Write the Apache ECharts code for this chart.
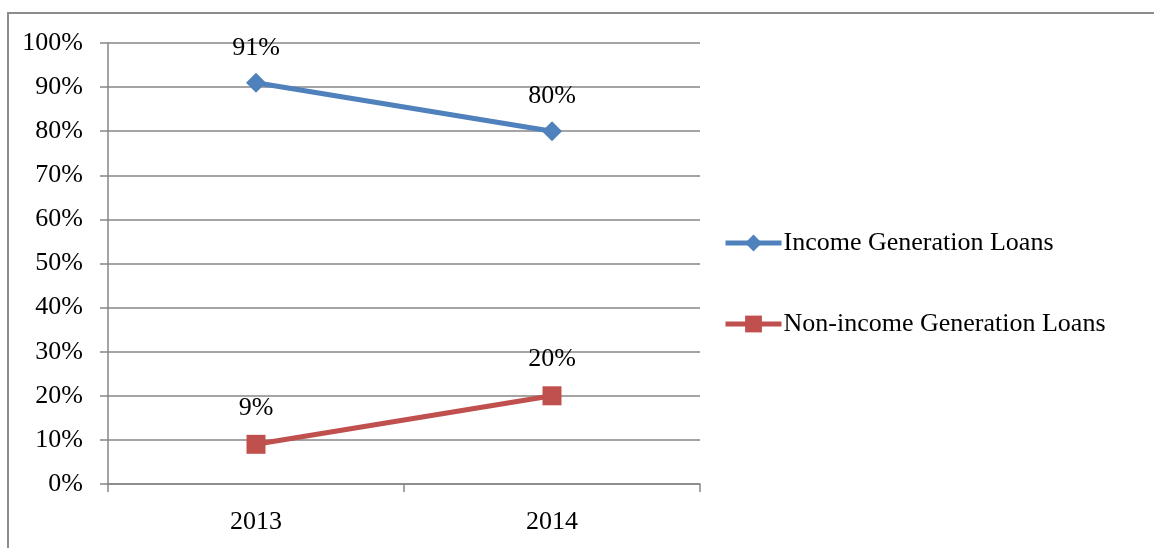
<!DOCTYPE html>
<html>
<head>
<meta charset="utf-8">
<script src="https://cdn.jsdelivr.net/npm/echarts@6/dist/echarts.min.js"></script>
<style>
  html, body { margin: 0; padding: 0; background: #fff; }
  #chart { width: 1154px; height: 548px; }
</style>
</head>
<body>
<div id="chart"></div>
<script>
// Loan shares by year
const years = ['2013', '2014'];
const incomeLoans = [0.91, 0.80];
const nonIncomeLoans = [0.09, 0.20];
const seriesNames = ['Income Generation Loans', 'Non-income Generation Loans'];

const FONT = '"Liberation Serif", "DejaVu Serif", serif';
const FS = 26;
const GRID = '#868686';
const pct = v => Math.round(v * 100) + '%';

const chart = echarts.init(document.getElementById('chart'));
chart.setOption({
  animation: false,
  backgroundColor: '#fff',
  textStyle: { fontFamily: FONT },
  graphic: [{
    type: 'rect',
    shape: { x: 8, y: 13, width: 1300, height: 700 },
    style: { fill: 'none', stroke: '#8c8c8c', lineWidth: 2 },
    silent: true
  }],
  grid: { left: 108, right: 454, top: 43, bottom: 64 },
  legend: {
    orient: 'vertical',
    left: 723,
    top: 230,
    padding: 0,
    itemGap: 55,
    itemWidth: 56,
    itemHeight: 21,
    lineStyle: { width: 5 },
    textStyle: { fontFamily: FONT, fontSize: FS, color: '#000', padding: [0, 0, 0, -3] },
    data: seriesNames
  },
  xAxis: {
    type: 'category',
    data: years,
    boundaryGap: true,
    axisLine: { lineStyle: { color: GRID, width: 1.5 } },
    axisTick: { show: true, length: 8, interval: 0, lineStyle: { color: GRID, width: 1.5 } },
    axisLabel: { color: '#000', fontFamily: FONT, fontSize: FS, margin: 25 }
  },
  yAxis: {
    type: 'value',
    min: 0,
    max: 1,
    interval: 0.1,
    axisLine: { show: true, lineStyle: { color: GRID, width: 1.5 } },
    axisTick: { show: true, length: 8, lineStyle: { color: GRID, width: 1.5 } },
    splitLine: { lineStyle: { color: GRID, width: 1.5 } },
    axisLabel: { color: '#000', fontFamily: FONT, fontSize: FS, margin: 25, formatter: pct }
  },
  series: [
    {
      name: seriesNames[0],
      type: 'line',
      data: incomeLoans,
      symbol: 'diamond',
      symbolSize: 20,
      color: '#4F81BD',
      lineStyle: { width: 5, color: '#4F81BD' },
      itemStyle: { color: '#4F81BD' },
      label: {
        show: true, position: 'top', distance: 12,
        formatter: p => pct(p.value),
        color: '#000', fontFamily: FONT, fontSize: FS
      }
    },
    {
      name: seriesNames[1],
      type: 'line',
      data: nonIncomeLoans,
      symbol: 'rect',
      symbolSize: 19,
      color: '#C0504D',
      lineStyle: { width: 5, color: '#C0504D' },
      itemStyle: { color: '#C0504D' },
      label: {
        show: true, position: 'top', distance: 14,
        formatter: p => pct(p.value),
        color: '#000', fontFamily: FONT, fontSize: FS
      }
    }
  ]
});
</script>
</body>
</html>
